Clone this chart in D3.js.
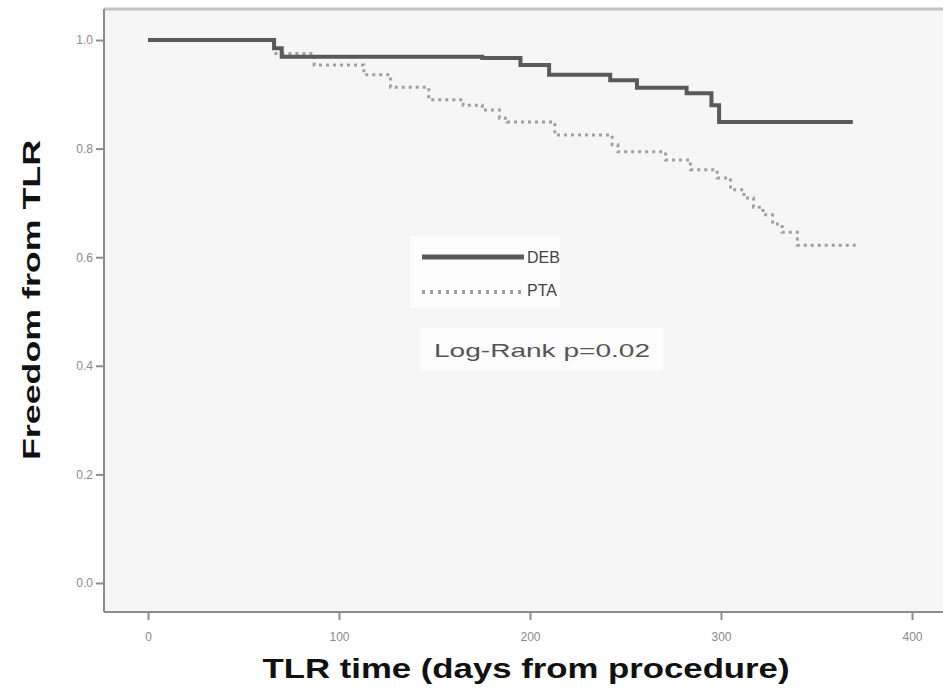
<!DOCTYPE html>
<html>
<head>
<meta charset="utf-8">
<script src="https://cdn.jsdelivr.net/npm/d3@7"></script>
<style>
  body { margin: 0; background: #fff; }
  svg { display: block; font-family: "Liberation Sans", Arial, sans-serif; }
</style>
</head>
<body>
<div id="chart"></div>
<script>
// Kaplan-Meier step data (days, freedom from TLR)
var debDays = [0, 66, 70, 175, 195, 210, 242, 256, 282, 295, 299, 369];
var debSurv = [1.0, 0.985, 0.969, 0.967, 0.954, 0.936, 0.926, 0.912, 0.902, 0.880, 0.849, 0.849];

var ptaDays = [0, 66, 87, 113, 127, 147, 165, 175, 184, 188, 213, 243, 246, 271, 284, 298, 305, 312, 317, 322, 327, 332, 340, 372];
var ptaSurv = [1.0, 0.975, 0.954, 0.936, 0.913, 0.890, 0.880, 0.871, 0.856, 0.849, 0.825, 0.807, 0.794, 0.779, 0.761, 0.746, 0.724, 0.709, 0.692, 0.678, 0.661, 0.646, 0.622, 0.622];

var xTicks = [0, 100, 200, 300, 400];
var yTicks = [0, 0.2, 0.4, 0.6, 0.8, 1.0];
var legendNames = ["DEB", "PTA"];
var pText = "Log-Rank p=0.02";

var W = 943, H = 691;
var plotL = 104, plotR = 943, plotT = 9, plotB = 612;

var svg = d3.select("#chart")
    .append("svg")
    .attr("width", W)
    .attr("height", H);

var x = d3.scaleLinear()
    .domain([0, 400])
    .range([148, 912]);

var y = d3.scaleLinear()
    .domain([0, 1])
    .range([583, 40]);

// plot background
svg.append("rect")
    .attr("x", plotL)
    .attr("y", plotT)
    .attr("width", plotR - plotL)
    .attr("height", plotB - plotT)
    .attr("fill", "#f6f6f6");

// top border
svg.append("line")
    .attr("x1", plotL).attr("x2", plotR)
    .attr("y1", plotT).attr("y2", plotT)
    .attr("stroke", "#c4c4c4")
    .attr("stroke-width", 3);

// axes
var xAxis = svg.append("g")
    .attr("transform", "translate(0," + plotB + ")")
    .call(d3.axisBottom(x).tickValues(xTicks).tickSize(8).tickFormat(d3.format("d")));
xAxis.select(".domain").attr("d", "M" + plotL + ",0H" + plotR);

var yAxis = svg.append("g")
    .attr("transform", "translate(" + plotL + ",0)")
    .call(d3.axisLeft(y).tickValues(yTicks).tickSize(8).tickFormat(d3.format(".1f")));
yAxis.select(".domain").attr("d", "M0," + plotT + "V" + plotB);

svg.selectAll(".domain")
    .attr("stroke", "#8c8c8c")
    .attr("stroke-width", 2);
svg.selectAll(".tick line")
    .attr("stroke", "#8c8c8c")
    .attr("stroke-width", 2);
svg.selectAll(".tick text")
    .attr("fill", "#8a8a8a")
    .style("font-size", "12px");
xAxis.selectAll(".tick text").attr("dy", "1.5em");

// curves
var step = d3.line()
    .x(d => x(d[0]))
    .y(d => y(d[1]))
    .curve(d3.curveStepAfter);

var debData = debDays.map((d, i) => [d, debSurv[i]]);
var ptaData = ptaDays.map((d, i) => [d, ptaSurv[i]]);

svg.append("path")
    .datum(ptaData)
    .attr("fill", "none")
    .attr("stroke", "#a0a0a0")
    .attr("stroke-width", 3)
    .attr("stroke-dasharray", "3,4")
    .attr("d", step);

svg.append("path")
    .datum(debData)
    .attr("fill", "none")
    .attr("stroke", "#5a5a5a")
    .attr("stroke-width", 4)
    .attr("d", step);

// legend
svg.append("rect")
    .attr("x", 410).attr("y", 236)
    .attr("width", 150).attr("height", 72)
    .attr("fill", "#fdfdfd");

svg.append("line")
    .attr("x1", 422).attr("x2", 524)
    .attr("y1", 257).attr("y2", 257)
    .attr("stroke", "#5a5a5a")
    .attr("stroke-width", 5);

svg.append("line")
    .attr("x1", 422).attr("x2", 524)
    .attr("y1", 292).attr("y2", 292)
    .attr("stroke", "#a0a0a0")
    .attr("stroke-width", 4)
    .attr("stroke-dasharray", "3,5");

svg.selectAll(".leg")
    .data(legendNames)
    .enter().append("text")
    .attr("x", 527)
    .attr("y", (d, i) => 263 + i * 33)
    .attr("fill", "#444")
    .style("font-size", "16px")
    .text(d => d);

svg.append("rect")
    .attr("x", 420).attr("y", 328)
    .attr("width", 243).attr("height", 42)
    .attr("fill", "#fdfdfd");

svg.append("text")
    .attr("x", 434)
    .attr("y", 357)
    .attr("fill", "#555")
    .attr("textLength", 216)
    .attr("lengthAdjust", "spacingAndGlyphs")
    .style("font-size", "19px")
    .text(pText);

// axis titles
svg.append("text")
    .attr("transform", "translate(40,300) rotate(-90)")
    .attr("text-anchor", "middle")
    .attr("textLength", 320)
    .attr("lengthAdjust", "spacingAndGlyphs")
    .style("font-size", "23px")
    .style("font-weight", "bold")
    .attr("fill", "#111")
    .text("Freedom from TLR");

svg.append("text")
    .attr("x", 526)
    .attr("y", 678)
    .attr("text-anchor", "middle")
    .attr("textLength", 527)
    .attr("lengthAdjust", "spacingAndGlyphs")
    .style("font-size", "28px")
    .style("font-weight", "bold")
    .attr("fill", "#111")
    .text("TLR time (days from procedure)");
</script>
</body>
</html>
